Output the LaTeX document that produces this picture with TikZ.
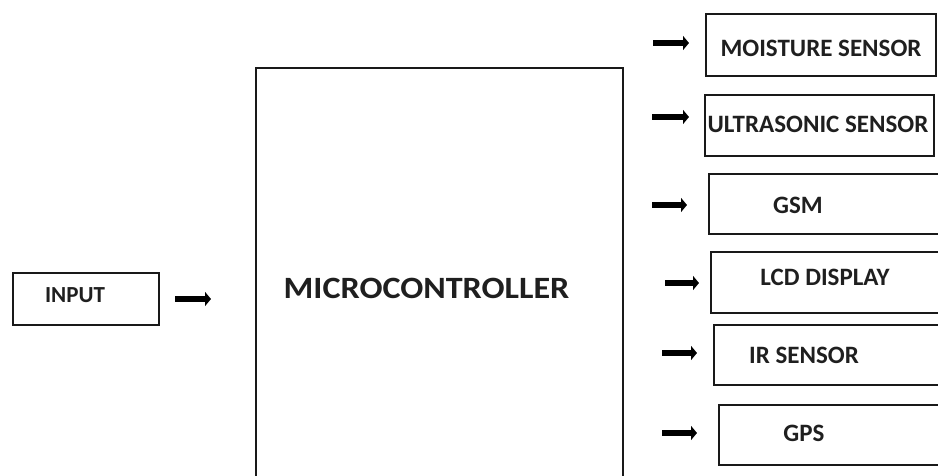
\documentclass[tikz,border=0pt]{standalone}
\usepackage{fontspec}
\setmainfont{Carlito}
\usetikzlibrary{arrows.meta}
\tikzset{
  box/.style={draw=black!90, line width=1.6pt, inner sep=0pt, anchor=north west},
  lbl/.style={font=\bfseries\fontsize{25}{25}\selectfont, text=black!88, inner sep=0pt, anchor=center},
  arr/.style={line width=6pt, draw=black, -{Triangle[length=6pt,width=14pt]}, shorten >=-1pt}
}
\begin{document}
\begin{tikzpicture}[x=1pt,y=-1pt]
\useasboundingbox (0,0) rectangle (938,475);
% input
\node[box, minimum width=146pt, minimum height=52pt] (inbox) at (12,272) {};
\node[lbl, font=\bfseries\fontsize{23}{23}\selectfont] (inlbl) at (75,295) {INPUT};
% microcontroller
\node[box, minimum width=367pt, minimum height=440pt] (mcu) at (255,67) {};
\node[lbl, font=\bfseries\fontsize{31}{31}\selectfont] (mculbl) at (426.5,288) {\scalebox{1.1}[1]{MICROCONTROLLER}};
% right boxes
\node[box, minimum width=230pt, minimum height=62pt] (moist) at (705,13) {};
\node[lbl] (moistlbl) at (821,48) {MOISTURE SENSOR};
\node[box, minimum width=229pt, minimum height=61pt] (ultra) at (704,94) {};
\node[lbl] (ultralbl) at (818,124) {ULTRASONIC SENSOR};
\node[box, minimum width=240pt, minimum height=60pt] (gsm) at (708,173) {};
\node[lbl] (gsmlbl) at (798,205) {GSM};
\node[box, minimum width=240pt, minimum height=61pt] (lcd) at (710,251) {};
\node[lbl] (lcdlbl) at (825,277) {LCD DISPLAY};
\node[box, minimum width=240pt, minimum height=60pt] (ir) at (713,324) {};
\node[lbl] (irlbl) at (804,355) {IR SENSOR};
\node[box, minimum width=240pt, minimum height=60pt] (gps) at (718,404) {};
\node[lbl] (gpslbl) at (804,433) {GPS};
% arrows
\coordinate (a0s) at (175,299); \coordinate (a0e) at (210,299);
\coordinate (a1s) at (653,43);  \coordinate (a1e) at (688,43);
\coordinate (a2s) at (652,117); \coordinate (a2e) at (688,117);
\coordinate (a3s) at (652,205); \coordinate (a3e) at (686,205);
\coordinate (a4s) at (665,283); \coordinate (a4e) at (698,283);
\coordinate (a5s) at (662,353); \coordinate (a5e) at (696,353);
\coordinate (a6s) at (662,433); \coordinate (a6e) at (696,433);
\foreach \i in {0,...,6} { \draw[arr] (a\i s) -- (a\i e); }
\end{tikzpicture}
\end{document}
